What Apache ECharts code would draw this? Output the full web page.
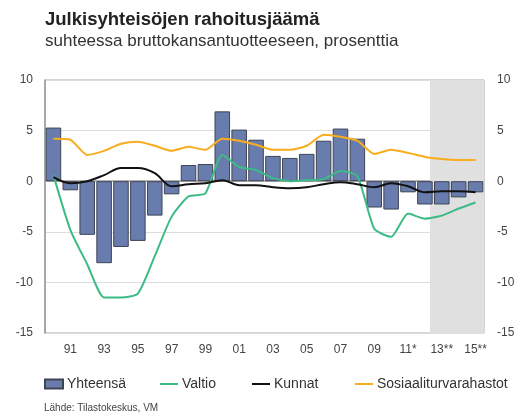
<!DOCTYPE html>
<html>
<head>
<meta charset="utf-8">
<script src="https://cdn.jsdelivr.net/npm/echarts@6/dist/echarts.min.js"></script>
<style>
  html, body { margin: 0; padding: 0; background: #fff; }
  #chart { width: 515px; height: 418px; }
</style>
</head>
<body>
<div id="chart"></div>
<script>
// vuodet 1990-2015
var years = ["90", "91", "92", "93", "94", "95", "96", "97", "98", "99", "00", "01", "02",
  "03", "04", "05", "06", "07", "08", "09", "10", "11*", "12*", "13**", "14**", "15**"];

var yhteensa = [5.3, -0.9, -5.3, -8.1, -6.5, -5.9, -3.4, -1.3, 1.6, 1.7, 6.9, 5.1, 4.1,
  2.5, 2.3, 2.7, 4.0, 5.2, 4.2, -2.6, -2.8, -1.1, -2.3, -2.3, -1.6, -1.1];
var valtio = [0.6, -4.8, -8.2, -11.5, -11.5, -11.1, -7.4, -3.5, -1.5, -1.2, 2.6, 1.4, 1.1,
  0.3, 0.0, 0.1, 0.2, 1.0, 0.5, -4.7, -5.5, -3.2, -3.7, -3.4, -2.7, -2.1];
var kunnat = [0.4, -0.2, 0.0, 0.6, 1.3, 1.3, 0.8, -0.5, -0.3, -0.2, 0.1, -0.4, -0.4,
  -0.6, -0.7, -0.6, -0.3, -0.1, -0.3, -0.6, -0.2, -0.5, -1.1, -1.0, -1.0, -1.1];
var sosiaali = [4.2, 4.1, 2.6, 3.0, 3.7, 3.9, 3.5, 3.0, 3.4, 3.1, 4.2, 4.0, 3.6,
  3.1, 3.1, 3.5, 4.6, 4.4, 4.0, 2.7, 3.1, 2.8, 2.4, 2.2, 2.1, 2.1];

// ennusteväli (kategoriaindeksit)
var forecastStart = 22.8;
var forecastEnd = 26;

var font = "Liberation Sans, Arial, sans-serif";
var lineIcon = "path://M0,0 L20,0 L20,2.2 L0,2.2 Z";

function legendItem(name, icon, left) {
  return {
    left: left,
    top: 377,
    itemWidth: 18,
    itemHeight: 9,
    padding: 0,
    textStyle: { fontSize: 14, color: "#333", fontFamily: font, padding: [0, 0, 0, -1] },
    data: [{ name: name, icon: icon }]
  };
}

var chart = echarts.init(document.getElementById("chart"));
chart.setOption({
  animation: false,
  textStyle: { fontFamily: font },
  title: [{
    text: "Julkisyhteisöjen rahoitusjäämä",
    left: 40,
    top: 5,
    textStyle: { fontSize: 18.5, fontWeight: "bold", color: "#222", fontFamily: font }
  }, {
    text: "suhteessa bruttokansantuotteeseen, prosenttia",
    left: 40,
    top: 28,
    textStyle: { fontSize: 17, fontWeight: "normal", color: "#333", fontFamily: font }
  }],
  grid: {
    left: 45,
    right: 31,
    top: 80,
    bottom: 85,
    outerBoundsMode: "none",
    containLabel: false,
    show: true,
    borderColor: "#a8a8a8",
    borderWidth: 1
  },
  legend: [
    legendItem("Yhteensä", "rect", 44),
    legendItem("Valtio", lineIcon, 160),
    legendItem("Kunnat", lineIcon, 252),
    legendItem("Sosiaaliturvarahastot", lineIcon, 355)
  ],
  graphic: [{
    type: "text",
    left: 44,
    top: 403,
    style: { text: "Lähde: Tilastokeskus, VM", fontSize: 10, fill: "#444", fontFamily: font }
  }],
  xAxis: [{
    type: "category",
    data: years,
    axisLine: { lineStyle: { color: "#999", width: 1.5 } },
    axisTick: { show: false },
    axisLabel: {
      interval: function (index) { return index % 2 === 1; },
      fontSize: 12,
      color: "#444",
      margin: 11
    }
  }, {
    type: "value",
    min: 0,
    max: 26,
    show: false
  }],
  yAxis: [{
    type: "value",
    min: -15,
    max: 10,
    interval: 5,
    axisLine: { show: true, lineStyle: { color: "#999", width: 1.5 } },
    axisTick: { show: false },
    axisLabel: { fontSize: 12, color: "#444", margin: 12 },
    splitLine: { lineStyle: { color: "#ddd" } }
  }, {
    type: "value",
    min: -15,
    max: 10,
    interval: 5,
    position: "right",
    axisLine: { show: false },
    axisTick: { show: false },
    axisLabel: { fontSize: 12, color: "#444", margin: 13 },
    splitLine: { show: false }
  }],
  series: [
    {
      name: "ennuste",
      type: "line",
      xAxisIndex: 1,
      data: [],
      z: 0,
      silent: true,
      markArea: {
        silent: true,
        itemStyle: { color: "#e0e0e0" },
        data: [[{ xAxis: forecastStart }, { xAxis: forecastEnd }]]
      }
    },
    {
      name: "Yhteensä",
      type: "bar",
      data: yhteensa,
      barCategoryGap: "8%",
      itemStyle: { color: "#687dad", borderColor: "#3f4455", borderWidth: 1 }
    },
    {
      name: "Valtio",
      type: "line",
      data: valtio,
      smooth: 0.2,
      symbol: "none",
      lineStyle: { color: "#3dbb84", width: 2 },
      itemStyle: { color: "#3dbb84" }
    },
    {
      name: "Kunnat",
      type: "line",
      data: kunnat,
      smooth: 0.35,
      symbol: "none",
      lineStyle: { color: "#111", width: 2 },
      itemStyle: { color: "#111" }
    },
    {
      name: "Sosiaaliturvarahastot",
      type: "line",
      data: sosiaali,
      smooth: 0.2,
      symbol: "none",
      lineStyle: { color: "#f8ad1e", width: 2 },
      itemStyle: { color: "#f8ad1e" }
    }
  ]
});
</script>
</body>
</html>
